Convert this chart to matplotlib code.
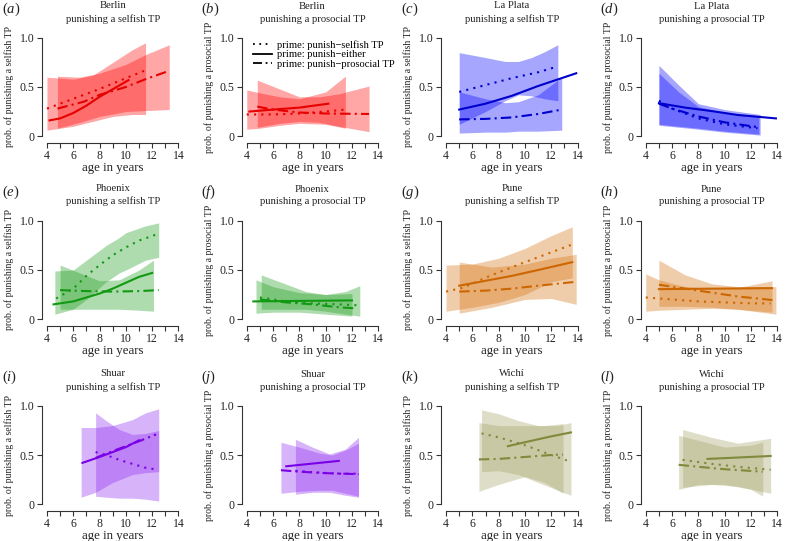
import matplotlib
matplotlib.use('Agg')
import matplotlib.pyplot as plt

plt.rcParams['font.family'] = ['Liberation Serif', 'DejaVu Serif']
plt.rcParams['mathtext.fontset'] = 'custom'
plt.rcParams['mathtext.it'] = 'Liberation Serif:italic'
plt.rcParams['mathtext.rm'] = 'Liberation Serif'

# each line: (age, prob); each band: (age, lower, upper)
# --- Berlin
berlin_self_dot = [(4, .28), (6, .38), (8, .48), (10, .59), (11.5, .67)]
berlin_self_sol = [(4.2, .16), (5, .18), (6, .235), (7, .31), (8, .40), (9.3, .50), (10.2, .57)]
berlin_self_dd = [(4.8, .28), (6.8, .35), (8, .42), (10, .50), (11.5, .58), (13.3, .665)]
berlin_self_band1 = [(4, .06, .60), (6, .10, .58), (7.5, .15, .62), (9, .20, .75), (10.5, .22, .88), (11.5, .22, .95)]
berlin_self_band2 = [(4.8, .08, .61), (6.5, .14, .60), (8, .20, .64), (10, .25, .73), (11.5, .26, .83), (13.3, .27, .93)]

berlin_pro_dot = [(4, .22), (6, .22), (8, .23), (10, .25), (11.5, .27)]
berlin_pro_sol = [(4.2, .25), (6, .27), (8, .29), (10.2, .33)]
berlin_pro_dd = [(4.8, .30), (6, .27), (8, .24), (10, .23), (13.3, .225)]
berlin_pro_band1 = [(4, .07, .47), (5, .08, .44), (6.5, .11, .40), (8, .13, .38), (10, .12, .45), (11.5, .08, .61)]
berlin_pro_band2 = [(4.8, .09, .57), (6.5, .13, .48), (8, .15, .40), (9.5, .14, .40), (11, .10, .43), (13.3, .045, .51)]

# --- La Plata
laplata_self_dot = [(5, .45), (7, .52), (9, .59), (11, .65), (12.5, .71)]
laplata_self_sol = [(5, .27), (7, .33), (9, .41), (11, .51), (13.9, .64)]
laplata_self_dd = [(5, .17), (7, .175), (9, .19), (11, .225), (12.8, .27)]
laplata_self_band1 = [(5, .12, .85), (7, .25, .80), (8.5, .36, .76), (9.5, .42, .76), (10.5, .41, .80), (11.5, .38, .86), (12.5, .36, .93)]
laplata_self_band2 = [(5, .03, .45), (7, .04, .38), (8.5, .04, .34), (9.5, .05, .35), (11, .05, .42), (12.8, .06, .60)]

laplata_pro_dot = [(5, .36), (6, .28), (8, .18), (10, .12), (12.5, .08)]
laplata_pro_sol = [(5, .335), (7, .29), (9, .255), (11, .215), (13.9, .18)]
laplata_pro_dd = [(5, .33), (6, .28), (8, .20), (10, .14), (12.6, .09)]
laplata_pro_band1 = [(5, .11, .72), (6.5, .09, .52), (8, .07, .33), (10, .04, .27), (12.7, .01, .22)]
laplata_pro_band2 = [(5, .12, .64), (6.5, .10, .45), (8, .08, .30), (10, .05, .24), (12.6, .02, .20)]

# --- Phoenix
phoenix_self_dot = [(4.7, .21), (6, .31), (7, .44), (8, .55), (9, .65), (10, .73), (11, .80), (12.5, .87)]
phoenix_self_sol = [(4.5, .15), (6, .18), (7, .22), (8, .26), (9, .31), (10, .37), (11, .43), (12, .47)]
phoenix_self_dd = [(5, .295), (7, .285), (9, .28), (11, .285), (12.5, .295)]
phoenix_self_band1 = [(4.6, .05, .49), (6, .10, .50), (7, .20, .60), (8.5, .38, .75), (9.5, .47, .83), (10, .50, .88), (11.5, .60, .95), (12.5, .63, .98)]
phoenix_self_band2 = [(5, .10, .55), (6.5, .10, .47), (8, .10, .39), (9.5, .10, .40), (11, .09, .50), (12.1, .08, .60)]

phoenix_pro_dot = [(5, .22), (7, .18), (9, .16), (11, .15), (12.5, .14)]
phoenix_pro_sol = [(4.5, .18), (8, .185), (12, .19)]
phoenix_pro_dd = [(5, .20), (7, .17), (9, .15), (11, .12), (12.2, .11)]
phoenix_pro_band1 = [(4.7, .06, .40), (6, .07, .33), (8, .07, .27), (10, .05, .25), (12, .03, .26)]
phoenix_pro_band2 = [(5.1, .10, .45), (6.5, .10, .38), (8.5, .10, .28), (10, .08, .25), (11.5, .05, .28), (12.6, .03, .34)]

# --- Pune
pune_self_dot = [(4, .28), (5.3, .32), (7.5, .45), (10, .58), (12, .68), (13.6, .76)]
pune_self_sol = [(5, .34), (7, .39), (9, .44), (11, .50), (13.6, .58)]
pune_self_dd = [(5, .28), (7, .29), (9, .31), (11, .34), (13.9, .38)]
pune_self_band1 = [(4, .08, .55), (6, .12, .56), (8, .17, .62), (10, .25, .72), (12, .38, .85), (13.6, .42, .94)]
pune_self_band2 = [(5, .06, .58), (7.5, .12, .53), (10, .20, .56), (12, .21, .62), (13.9, .15, .66)]

pune_pro_dot = [(4, .22), (6, .20), (8, .18), (10, .17), (12, .16), (13.5, .16)]
pune_pro_sol = [(5, .305), (9, .31), (13.6, .315)]
pune_pro_dd = [(5, .35), (7, .31), (9, .27), (11, .23), (13.9, .19)]
pune_pro_band1 = [(4, .08, .46), (5, .09, .40), (7, .10, .33), (9, .11, .31), (11, .10, .32), (13.6, .07, .39)]
pune_pro_band2 = [(5, .13, .60), (7, .13, .45), (9, .12, .36), (11, .10, .33), (13.9, .05, .33)]

# --- Shuar
shuar_self_dot = [(7.7, .53), (8.5, .50), (9.5, .45), (10.5, .41), (11.5, .37), (12.4, .35)]
shuar_self_sol = [(6.7, .42), (8, .48), (9, .53), (10, .58), (11, .65)]
shuar_self_dd = [(7.7, .47), (9, .54), (10, .59), (11, .64), (12.3, .71)]
shuar_self_band1 = [(6.6, .07, .78), (7.7, .12, .78), (9, .22, .80), (10.5, .30, .86), (11.5, .32, .93), (12.5, .33, .97)]
shuar_self_band2 = [(7.7, .08, .93), (8.5, .07, .85), (9.5, .06, .76), (10.5, .06, .71), (11.5, .05, .72), (12.5, .03, .75)]

shuar_pro_dot = [(7.7, .34), (9, .325), (11, .31), (12.5, .31)]
shuar_pro_sol = [(7, .385), (11, .44)]
shuar_pro_dd = [(6.6, .345), (8, .33), (10, .315), (12.5, .305)]
shuar_pro_band1 = [(6.6, .11, .63), (8, .13, .58), (9.5, .14, .52), (10.5, .14, .50), (11.5, .11, .55), (12.5, .08, .62)]
shuar_pro_band2 = [(7.7, .10, .66), (9, .12, .58), (10.3, .12, .51), (11.5, .09, .56), (12.5, .07, .68)]

# --- Wichi
wichi_self_dot = [(6.7, .72), (8, .68), (9, .64), (10, .60), (11, .55), (12, .50), (13.5, .43)]
wichi_self_sol = [(8.7, .59), (10, .63), (11, .66), (12, .69), (13.5, .73)]
wichi_self_dd = [(6.5, .455), (8, .46), (10, .48), (12, .50), (12.9, .505)]
wichi_self_band1 = [(6.5, .13, .83), (8, .20, .80), (10, .28, .80), (11.5, .22, .80), (12.9, .11, .82)]
wichi_self_band2 = [(6.7, .33, .96), (8, .34, .92), (9.5, .30, .85), (11, .22, .80), (12.5, .14, .80), (13.5, .09, .83)]

wichi_pro_dot = [(6.8, .45), (9, .41), (11, .38), (13.5, .35)]
wichi_pro_sol = [(8.7, .46), (13.5, .49)]
wichi_pro_dd = [(6.5, .40), (8, .38), (10, .355), (12.9, .33)]
wichi_pro_band1 = [(6.5, .15, .70), (8, .20, .65), (10, .20, .58), (12, .15, .60), (12.9, .08, .63)]
wichi_pro_band2 = [(6.8, .17, .76), (9, .20, .68), (11, .18, .62), (13.5, .11, .67)]

cities = ['Berlin', 'La Plata', 'Phoenix', 'Pune', 'Shuar', 'Wichí']
band_colors = ['#FF0000', '#0000FF', '#1B9B1B', '#D4700C', '#8D29F1', '#A1A162']
line_colors = ['#E60000', '#0000CD', '#119911', '#CC6600', '#7A00E6', '#7F8A3A']
letters = 'abcdefghijkl'

panels = [
    (berlin_self_dot, berlin_self_sol, berlin_self_dd, berlin_self_band1, berlin_self_band2),
    (berlin_pro_dot, berlin_pro_sol, berlin_pro_dd, berlin_pro_band1, berlin_pro_band2),
    (laplata_self_dot, laplata_self_sol, laplata_self_dd, laplata_self_band1, laplata_self_band2),
    (laplata_pro_dot, laplata_pro_sol, laplata_pro_dd, laplata_pro_band1, laplata_pro_band2),
    (phoenix_self_dot, phoenix_self_sol, phoenix_self_dd, phoenix_self_band1, phoenix_self_band2),
    (phoenix_pro_dot, phoenix_pro_sol, phoenix_pro_dd, phoenix_pro_band1, phoenix_pro_band2),
    (pune_self_dot, pune_self_sol, pune_self_dd, pune_self_band1, pune_self_band2),
    (pune_pro_dot, pune_pro_sol, pune_pro_dd, pune_pro_band1, pune_pro_band2),
    (shuar_self_dot, shuar_self_sol, shuar_self_dd, shuar_self_band1, shuar_self_band2),
    (shuar_pro_dot, shuar_pro_sol, shuar_pro_dd, shuar_pro_band1, shuar_pro_band2),
    (wichi_self_dot, wichi_self_sol, wichi_self_dd, wichi_self_band1, wichi_self_band2),
    (wichi_pro_dot, wichi_pro_sol, wichi_pro_dd, wichi_pro_band1, wichi_pro_band2),
]

DOT = (0, (1, 2.5))
DASHDOT = (0, (5, 2, 1, 2))

fig = plt.figure(figsize=(7.88, 5.41), dpi=100)
lefts = [41.7, 241.5, 440.8, 640.5]   # px
tops = [34, 217, 402]                # px
W, H = 142, 106

for i, (dot, sol, dd, b1, b2) in enumerate(panels):
    r, c = divmod(i, 4)
    city = cities[i // 2]
    kind = 'selfish' if i % 2 == 0 else 'prosocial'
    ax = fig.add_axes([lefts[c] / 788, (541 - tops[r] - H) / 541, W / 788, H / 541])
    bc, lc = band_colors[i // 2], line_colors[i // 2]

    for band in (b1, b2):
        ax.fill_between([p[0] for p in band], [p[1] for p in band], [p[2] for p in band],
                        color=bc, alpha=0.35, lw=0)
    ax.plot([p[0] for p in dot], [p[1] for p in dot], color=lc, lw=1.5, ls=DOT)
    ax.plot([p[0] for p in sol], [p[1] for p in sol], color=lc, lw=1.5, ls='-')
    ax.plot([p[0] for p in dd], [p[1] for p in dd], color=lc, lw=1.5, ls=DASHDOT)

    ax.set_xlim(3.6, 14.4)
    ax.set_ylim(-0.04, 1.04)
    for s in ('top', 'right'):
        ax.spines[s].set_visible(False)
    ax.spines['left'].set_bounds(0, 1)
    ax.spines['bottom'].set_bounds(4, 14)
    ax.spines['bottom'].set_position(('outward', 2))
    for s in ('left', 'bottom'):
        ax.spines[s].set_linewidth(0.8)
        ax.spines[s].set_color('#333333')
    ax.set_xticks(range(4, 15))
    ax.set_xticklabels([str(t) if t % 2 == 0 else '' for t in range(4, 15)])
    ax.set_yticks([0, 0.5, 1.0])
    ax.set_yticklabels(['0', '0.5', '1.0'])
    ax.tick_params(direction='out', length=3.5, width=0.8, labelsize=8.5, pad=1.5,
                   color='#333333', labelcolor='#222222')
    ax.set_xlabel('age in years', fontsize=9.3, labelpad=0, color='#222222')
    ax.set_ylabel('prob. of punishing a %s TP' % kind, fontsize=7, labelpad=4, color='#222222')
    ax.set_title('%s\npunishing a %s TP' % (city, kind), fontsize=7.7, pad=9,
                 linespacing=1.5, color='#222222')
    fig.text((lefts[c] - 40) / 788, 1 - (tops[r] - 25) / 541, '($\\it{%s}$)' % letters[i],
             fontsize=10.5, va='center', ha='left', color='#222222')

    if i == 1:
        hs = [plt.Line2D([], [], color='k', lw=1.3, ls=DOT),
              plt.Line2D([], [], color='k', lw=1.3, ls='-'),
              plt.Line2D([], [], color='k', lw=1.3, ls=DASHDOT)]
        ax.legend(hs, ['prime: punish\u2212selfish TP', 'prime: punish\u2212either',
                       'prime: punish\u2212prosocial TP'],
                  loc='upper left', bbox_to_anchor=(0.03, 1.01), frameon=False, fontsize=7.6,
                  handlelength=1.8, handletextpad=0.5, labelspacing=0.0, borderpad=0.2)

fig.savefig('out.png', dpi=100)
